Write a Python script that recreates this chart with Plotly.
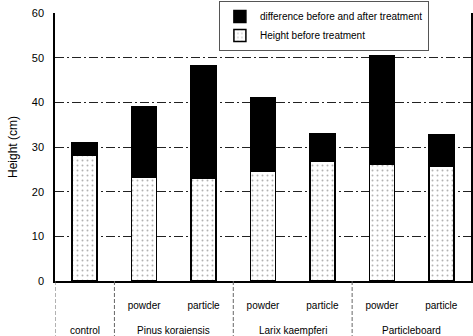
import plotly.graph_objects as go

# ---- data ----
keys = ["control", "Pinus powder", "Pinus particle", "Larix powder",
        "Larix particle", "Board powder", "Board particle"]
inner_labels = ["", "powder", "particle", "powder", "particle", "powder", "particle"]
group_labels = ["control", "Pinus koraiensis", "Pinus koraiensis",
                "Larix kaempferi", "Larix kaempferi", "Particleboard", "Particleboard"]
height_before = [28.2, 23.2, 23.0, 24.5, 26.7, 26.2, 25.8]
height_after = [31.0, 39.0, 48.1, 41.0, 33.0, 50.4, 32.8]
difference = [a - b for a, b in zip(height_after, height_before)]
y_ticks = [0, 10, 20, 30, 40, 50, 60]

FONT = "Liberation Sans, Arial, sans-serif"

fig = go.Figure()
fig.add_trace(go.Bar(
    x=keys, y=height_before, name="Height before treatment",
    width=0.42,
    marker=dict(color="white", line=dict(color="black", width=1.5),
                pattern=dict(shape=".", fgcolor="#666", bgcolor="white",
                             size=5, solidity=0.12)),
))
fig.add_trace(go.Bar(
    x=keys, y=difference, name="difference before and after treatment",
    width=0.42,
    marker=dict(color="black", line=dict(color="black", width=1.5)),
))

# group labels (outer row) and dividers derived from groups
annotations = []
shapes = []
i = 0
n = len(group_labels)
bounds = [-0.5]
while i < n:
    j = i
    while j + 1 < n and group_labels[j + 1] == group_labels[i]:
        j += 1
    annotations.append(dict(x=(i + j) / 2, y=-0.183, xref="x", yref="paper",
                            text=group_labels[i], showarrow=False,
                            font=dict(family=FONT, size=10, color="black"),
                            yanchor="middle"))
    bounds.append(j + 0.5)
    i = j + 1
for b in bounds[:-1]:
    shapes.append(dict(type="line", xref="x", yref="paper", x0=b, x1=b,
                       y0=0, y1=-0.205,
                       line=dict(color="#666", width=1, dash="4px,2px")))

fig.update_layout(
    width=473, height=336,
    margin=dict(l=55, r=2, t=13, b=55, autoexpand=False),
    barmode="stack",
    plot_bgcolor="white", paper_bgcolor="white",
    font=dict(family=FONT, color="black"),
    showlegend=True,
    legend=dict(x=0.394, y=1.045, xanchor="left", yanchor="top",
                traceorder="reversed", bgcolor="white",
                bordercolor="#555", borderwidth=1,
                font=dict(family=FONT, size=10, color="black"),
                itemwidth=30, tracegroupgap=0),
    annotations=annotations,
    shapes=shapes,
    bargap=0.58,
)
fig.update_xaxes(
    type="category", range=[-0.5, 6.5],
    tickvals=keys, ticktext=inner_labels,
    tickfont=dict(family=FONT, size=10, color="black"),
    ticks="", ticklabelstandoff=14,
    showline=True, linecolor="black", linewidth=1.5, mirror=False,
    showgrid=False,
)
fig.update_yaxes(
    range=[0, 60], tickvals=y_ticks,
    tickfont=dict(family=FONT, size=11, color="black"),
    ticks="", ticklabelstandoff=7,
    showline=True, linecolor="black", linewidth=1.5, mirror=True,
    showgrid=True, gridcolor="#222", gridwidth=1, griddash="9px,3px,2px,3px",
    zeroline=False,
    title=dict(text="Height (cm)", font=dict(family=FONT, size=12, color="black"),
               standoff=12),
)
fig.write_html("out.html",
               config={"displayModeBar": False},
               post_script="document.body.style.margin='0';"
                           "document.body.style.overflow='hidden';")
